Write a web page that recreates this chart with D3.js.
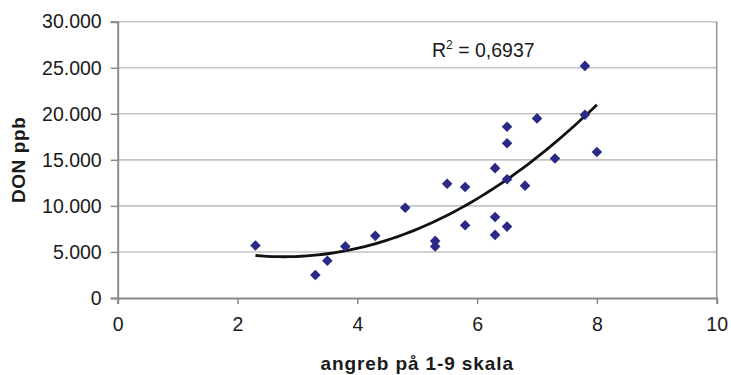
<!DOCTYPE html>
<html>
<head>
<meta charset="utf-8">
<script src="https://cdn.jsdelivr.net/npm/d3@7"></script>
<style>
  html, body { margin: 0; padding: 0; background: #ffffff; }
  svg { display: block; }
  text { font-family: "Liberation Sans", Arial, sans-serif; fill: #1a1a1a; }
</style>
</head>
<body>
<svg id="chart" width="731" height="375"></svg>
<script>
// ---- data ----
const xValues = [2.3, 3.3, 3.5, 3.8, 4.3, 4.8, 5.3, 5.3, 5.5, 5.8, 5.8, 6.3, 6.3, 6.3, 6.5, 6.5, 6.5, 6.5, 6.8, 7.0, 7.3, 7.8, 7.8, 8.0];
const yValues = [5700, 2500, 4050, 5600, 6750, 9800, 6200, 5600, 12400, 12050, 7900, 14100, 8800, 6850, 18600, 16800, 12900, 7750, 12200, 19500, 15150, 25200, 19900, 15850];
const xTicks = [0, 2, 4, 6, 8, 10];
const yTicks = [0, 5000, 10000, 15000, 20000, 25000, 30000];
const yTickLabels = ["0", "5.000", "10.000", "15.000", "20.000", "25.000", "30.000"];
const xTitle = "angreb på 1-9 skala";
const yTitle = "DON ppb";
const rSquaredLabel = "0,6937";

(function () {
// ---- layout ----
const svg = d3.select("#chart");
const pl = 117.7, pr = 716.7, pt = 21.7, pb = 298;
const x = d3.scaleLinear().domain([0, 10]).range([pl, pr]);
const y = d3.scaleLinear().domain([0, 30000]).range([pb, pt]);

// gridlines
svg.append("g").selectAll("line").data(yTicks.filter(d => d > 0)).join("line")
  .attr("x1", pl).attr("x2", pr)
  .attr("y1", d => y(d)).attr("y2", d => y(d))
  .attr("stroke", "#c4c4c4").attr("stroke-width", 1.6);

// right border
svg.append("line").attr("x1", pr).attr("x2", pr).attr("y1", pt).attr("y2", pb)
  .attr("stroke", "#9a9a9a").attr("stroke-width", 1.6);

// axes
const yAxis = d3.axisLeft(y).tickValues(yTicks).tickSize(7).tickPadding(9)
  .tickFormat((d, i) => yTickLabels[i]);
const gy = svg.append("g").attr("transform", `translate(${pl},0)`).call(yAxis);
const xAxis = d3.axisBottom(x).tickValues(xTicks).tickSize(6).tickPadding(13)
  .tickFormat(d3.format("d"));
const gx = svg.append("g").attr("transform", `translate(0,${pb})`).call(xAxis);
[gx, gy].forEach(g => {
  g.select(".domain").attr("stroke", "#8a8a8a").attr("stroke-width", 2);
  g.selectAll(".tick line").attr("stroke", "#8a8a8a").attr("stroke-width", 1.5);
  g.selectAll(".tick text").attr("font-size", 19.5).attr("fill", "#1a1a1a")
    .attr("font-family", "Liberation Sans, Arial, sans-serif");
});

// quadratic least-squares trend line (Excel polynomial order 2)
function polyfit2(xs, ys) {
  let n = xs.length, s = [0,0,0,0,0], t = [0,0,0];
  for (let i = 0; i < n; i++) {
    let p = 1;
    for (let k = 0; k < 5; k++) { s[k] += p; if (k < 3) t[k] += p * ys[i]; p *= xs[i]; }
  }
  const M = [[s[0], s[1], s[2], t[0]], [s[1], s[2], s[3], t[1]], [s[2], s[3], s[4], t[2]]];
  for (let c = 0; c < 3; c++) {
    for (let r = c + 1; r < 3; r++) {
      const f = M[r][c] / M[c][c];
      for (let k = c; k < 4; k++) M[r][k] -= f * M[c][k];
    }
  }
  const b = [0,0,0];
  for (let r = 2; r >= 0; r--) {
    let v = M[r][3];
    for (let k = r + 1; k < 3; k++) v -= M[r][k] * b[k];
    b[r] = v / M[r][r];
  }
  return b;
}
const coef = polyfit2(xValues, yValues);
const xMin = d3.min(xValues), xMax = d3.max(xValues);
const curve = d3.range(0, 61).map(i => {
  const xv = xMin + (xMax - xMin) * i / 60;
  return [xv, coef[0] + coef[1] * xv + coef[2] * xv * xv];
});
svg.append("path").datum(curve)
  .attr("d", d3.line().x(d => x(d[0])).y(d => y(d[1])))
  .attr("fill", "none").attr("stroke", "#111").attr("stroke-width", 2.8);

// points (diamonds)
svg.append("g").selectAll("path").data(xValues.map((d, i) => [d, yValues[i]])).join("path")
  .attr("transform", d => `translate(${x(d[0])},${y(d[1])})`)
  .attr("d", "M0,-5.3L5.3,0L0,5.3L-5.3,0Z")
  .attr("fill", "#2a2a86");

// R^2 label
const rl = svg.append("text").attr("x", 432).attr("y", 57).attr("font-size", 19.5);
rl.append("tspan").text("R");
rl.append("tspan").attr("dy", -8).attr("font-size", 12).text("2");
rl.append("tspan").attr("dy", 8).text(" = " + rSquaredLabel);

// axis titles
svg.append("text").attr("x", (pl + pr) / 2).attr("y", 370)
  .attr("text-anchor", "middle").attr("font-size", 19).attr("font-weight", "bold")
  .attr("letter-spacing", 0.9).text(xTitle);
svg.append("text").attr("transform", `translate(25,${(pt + pb) / 2}) rotate(-90)`)
  .attr("text-anchor", "middle").attr("font-size", 19).attr("font-weight", "bold")
  .attr("letter-spacing", 0.6).text(yTitle);
})();
</script>
</body>
</html>
